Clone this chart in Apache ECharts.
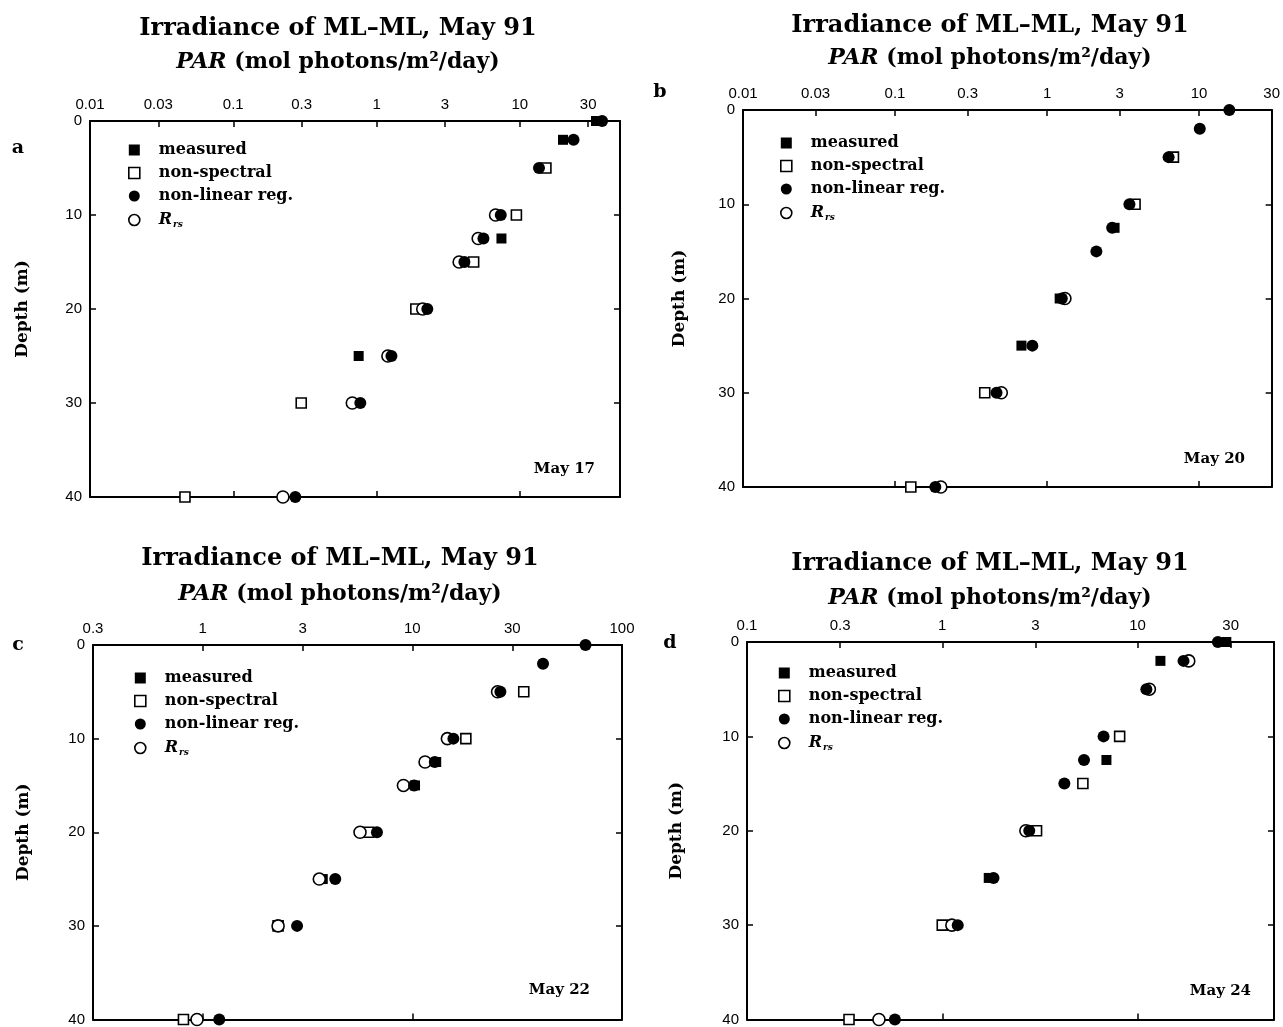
<!DOCTYPE html>
<html lang="en">
<head>
  <meta charset="UTF-8">
  <title>Irradiance of ML-ML, May 91</title>
  <style>
    html, body { margin: 0; padding: 0; background: #fff; }
    #chart { width: 1283px; height: 1027px; }
  </style>
</head>
<body>
  <div id="chart"></div>

  <script src="https://cdn.jsdelivr.net/npm/echarts/dist/echarts.min.js"></script>
  <script>
    // depths of the samples (m), same for every cast
    var depths = [0, 2, 5, 10, 12.5, 15, 20, 25, 30, 40];

    // PAR (mol photons/m2/day), null where the mark is hidden under another one
    var may17Measured    = [34, 20, null, null, 7.44, null, null, 0.75, null, null];
    var may17NonSpectral = [null, null, 15.2, 9.46, null, 4.76, 1.88, null, 0.298, 0.046];
    var may17NonLinear   = [37.5, 23.7, 13.6, 7.36, 5.57, 4.1, 2.26, 1.27, 0.77, 0.271];
    var may17Rrs         = [null, null, null, 6.77, 5.12, 3.77, 2.1, 1.2, 0.677, 0.222];

    var may20Measured    = [null, null, null, null, 2.78, null, 1.21, 0.678, null, null];
    var may20NonSpectral = [null, null, 6.78, 3.79, null, null, null, null, 0.389, 0.127];
    var may20NonLinear   = [15.8, 10.1, 6.3, 3.48, 2.68, 2.11, 1.25, 0.8, 0.465, 0.184];
    var may20Rrs         = [null, null, null, null, null, null, 1.31, null, 0.5, 0.2];

    var may22Measured    = [null, null, null, null, 13.0, 10.3, null, 3.74, null, null];
    var may22NonSpectral = [null, null, 34.0, 18.0, null, null, 6.2, null, 2.29, 0.81];
    var may22NonLinear   = [67, 42, 26.3, 15.7, 12.8, 10.2, 6.78, 4.29, 2.82, 1.2];
    var may22Rrs         = [null, null, 25.5, 14.7, 11.5, 9.07, 5.63, 3.6, 2.29, 0.94];

    var may24Measured    = [28.5, 13.1, null, null, 6.93, null, null, 1.73, null, null];
    var may24NonSpectral = [null, null, null, 8.1, null, 5.25, 3.04, null, 1.0, 0.333];
    var may24NonLinear   = [25.8, 17.2, 11.1, 6.7, 5.32, 4.22, 2.79, 1.83, 1.2, 0.572];
    var may24Rrs         = [null, 18.3, 11.5, null, null, null, 2.68, null, 1.12, 0.474];

    // top axis tick labels and ranges of each panel
    var ticks17 = ['0.01', '0.03', '0.1', '0.3', '1', '3', '10', '30'];
    var ticks20 = ['0.01', '0.03', '0.1', '0.3', '1', '3', '10', '30'];
    var ticks22 = ['0.3', '1', '3', '10', '30', '100'];
    var ticks24 = ['0.1', '0.3', '1', '3', '10', '30'];
    var range17 = [0.01, 50];
    var range20 = [0.01, 30];
    var range22 = [0.3, 100];
    var range24 = [0.1, 50];

    var depthTicks = [0, 10, 20, 30, 40];
    var letters = ['a', 'b', 'c', 'd'];
    var dates = ['May 17', 'May 20', 'May 22', 'May 24'];
    var seriesNames = ['measured', 'non-spectral', 'non-linear reg.', 'R_rs'];

    var serif = 'DejaVu Serif';
    var sans = 'Liberation Sans';

    var panels = [
      { grid: { left: 90, top: 121, width: 530, height: 376 }, ticks: ticks17, range: range17,
        data: [may17Measured, may17NonSpectral, may17NonLinear, may17Rrs],
        legend: [128, 142], title: [338, 29, 62], letter: [18, 148], date: [595, 469], nameGap: 59 },
      { grid: { left: 743, top: 110, width: 529, height: 377 }, ticks: ticks20, range: range20,
        data: [may20Measured, may20NonSpectral, may20NonLinear, may20Rrs],
        legend: [780, 135], title: [990, 26, 58], letter: [660, 92], date: [1245, 459], nameGap: 55 },
      { grid: { left: 93, top: 645, width: 529, height: 377 }, ticks: ticks22, range: range22,
        data: [may22Measured, may22NonSpectral, may22NonLinear, may22Rrs],
        legend: [134, 670], title: [340, 559, 594], letter: [18, 645], date: [590, 990], nameGap: 61 },
      { grid: { left: 747, top: 642, width: 527, height: 378 }, ticks: ticks24, range: range24,
        data: [may24Measured, may24NonSpectral, may24NonLinear, may24Rrs],
        legend: [778, 665], title: [990, 564, 598], letter: [670, 643], date: [1251, 991], nameGap: 62 }
    ];

    var markStyle = {
      'measured':        { symbol: 'rect', symbolSize: 10, itemStyle: { color: '#000', opacity: 1 } },
      'non-spectral':    { symbol: 'rect', symbolSize: 10, itemStyle: { color: '#fff', borderColor: '#000', borderWidth: 1.6, opacity: 1 } },
      'non-linear reg.': { symbol: 'circle', symbolSize: 12, itemStyle: { color: '#000', opacity: 1 } },
      'R_rs':            { symbol: 'circle', symbolSize: 12, itemStyle: { color: '#fff', borderColor: '#000', borderWidth: 1.6, opacity: 1 } }
    };
    // drawing order: filled circles end up on top
    var drawOrder = [0, 1, 3, 2];

    function toPoints(values) {
      var pts = [];
      values.forEach(function (v, i) {
        if (v != null) pts.push([Math.log10(v), depths[i]]);
      });
      return pts;
    }

    function decadesIn(range) {
      var out = [];
      for (var e = Math.ceil(Math.log10(range[0]) + 1e-9); e < Math.log10(range[1]) - 1e-9; e++) out.push(e);
      return out;
    }

    var grids = [], xAxes = [], yAxes = [], series = [], legends = [], graphics = [];
    var lineStyle = { color: '#000', width: 2 };
    var tickLine = { color: '#000', width: 1.5 };

    panels.forEach(function (p, i) {
      grids.push(p.grid);
      var min = Math.log10(p.range[0]);
      var max = Math.log10(p.range[1]);
      var labelVals = p.ticks.map(function (t) { return Math.log10(parseFloat(t)); });
      var inner = labelVals.filter(function (v) { return v > min + 1e-9 && v < max - 1e-9; });

      xAxes.push({
        gridIndex: i, type: 'value', position: 'top', min: min, max: max,
        axisLine: { onZero: false, lineStyle: lineStyle },
        axisTick: { inside: true, length: 6, customValues: inner, lineStyle: tickLine },
        axisLabel: {
          customValues: labelVals, color: '#000', fontFamily: sans, fontSize: 15, margin: 9,
          formatter: function (v) {
            for (var k = 0; k < labelVals.length; k++) {
              if (Math.abs(labelVals[k] - v) < 1e-6) return p.ticks[k];
            }
            return '';
          }
        },
        splitLine: { show: false }
      });
      xAxes.push({
        gridIndex: i, type: 'value', position: 'bottom', min: min, max: max,
        axisLine: { onZero: false, lineStyle: lineStyle },
        axisTick: { inside: true, length: 6, customValues: decadesIn(p.range), lineStyle: tickLine },
        axisLabel: { show: false },
        splitLine: { show: false }
      });

      yAxes.push({
        gridIndex: i, type: 'value', inverse: true, min: 0, max: 40, interval: 10,
        name: 'Depth (m)', nameLocation: 'middle', nameGap: p.nameGap, nameRotate: 90,
        nameTextStyle: { fontFamily: serif, fontWeight: 'bold', fontSize: 17, color: '#000' },
        axisLine: { onZero: false, lineStyle: lineStyle },
        axisTick: { inside: true, length: 6, customValues: depthTicks, lineStyle: tickLine },
        axisLabel: { customValues: depthTicks, color: '#000', fontFamily: sans, fontSize: 15, margin: 8 },
        splitLine: { show: false }
      });
      yAxes.push({
        gridIndex: i, type: 'value', position: 'right', inverse: true, min: 0, max: 40, interval: 10,
        axisLine: { onZero: false, lineStyle: lineStyle },
        axisTick: { inside: true, length: 6, lineStyle: tickLine },
        axisLabel: { show: false },
        splitLine: { show: false }
      });

      drawOrder.forEach(function (k) {
        var name = seriesNames[k];
        var st = markStyle[name];
        series.push({
          name: name, type: 'scatter', xAxisIndex: 2 * i, yAxisIndex: 2 * i,
          symbol: st.symbol, symbolSize: st.symbolSize, itemStyle: st.itemStyle,
          data: toPoints(p.data[k]), silent: true
        });
      });

      legends.push({
        orient: 'vertical', left: p.legend[0], top: p.legend[1], padding: 0,
        itemWidth: 11, itemHeight: 11, itemGap: 7, selectedMode: false,
        data: seriesNames.map(function (n) {
          return { name: n, icon: markStyle[n].symbol, itemStyle: markStyle[n].itemStyle };
        }),
        formatter: function (n) {
          return n === 'R_rs' ? '{ri|R}{sub|rs}' : '{t|' + n + '}';
        },
        textStyle: {
          color: '#000',
          rich: {
            t: { fontFamily: serif, fontWeight: 'bold', fontSize: 16, lineHeight: 16, padding: [0, 0, 0, 14] },
            ri: { fontFamily: serif, fontWeight: 'bold', fontStyle: 'italic', fontSize: 16, lineHeight: 16, padding: [0, 0, 0, 14] },
            sub: { fontFamily: serif, fontWeight: 'bold', fontStyle: 'italic', fontSize: 9, lineHeight: 16, padding: [9, 0, 0, 1] }
          }
        }
      });

      graphics.push({
        type: 'text', x: p.title[0], y: p.title[1],
        style: { text: 'Irradiance of ML\u2013ML, May 91', font: 'bold 24px "' + serif + '"', fill: '#000',
                 textAlign: 'center', textVerticalAlign: 'middle' }
      });
      graphics.push({
        type: 'text', x: p.title[0], y: p.title[2],
        style: { text: '{it|PAR} (mol photons/m\u00b2/day)', font: 'bold 22px "' + serif + '"', fill: '#000',
                 textAlign: 'center', textVerticalAlign: 'middle',
                 rich: { it: { fontFamily: serif, fontWeight: 'bold', fontStyle: 'italic', fontSize: 22 } } }
      });
      graphics.push({
        type: 'text', x: p.letter[0], y: p.letter[1],
        style: { text: letters[i], font: 'bold 19px "' + serif + '"', fill: '#000',
                 textAlign: 'center', textVerticalAlign: 'middle' }
      });
      graphics.push({
        type: 'text', x: p.date[0], y: p.date[1],
        style: { text: dates[i], font: 'bold 15px "' + serif + '"', fill: '#000',
                 textAlign: 'right', textVerticalAlign: 'middle' }
      });
    });

    var myChart = echarts.init(document.getElementById('chart'));
    myChart.setOption({
      animation: false,
      backgroundColor: '#fff',
      grid: grids,
      xAxis: xAxes,
      yAxis: yAxes,
      legend: legends,
      graphic: graphics,
      series: series
    });
  </script>
</body>
</html>
